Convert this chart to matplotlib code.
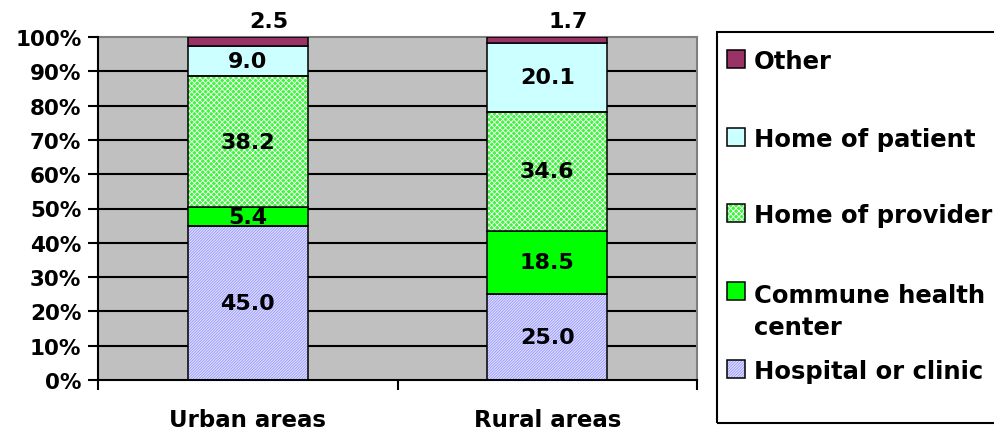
import matplotlib
matplotlib.use("Agg")
import matplotlib.pyplot as plt
from matplotlib.patches import Rectangle
import numpy as np

categories = ['Urban areas', 'Rural areas']
series_names = ['Hospital or clinic', 'Commune health\ncenter', 'Home of provider',
                'Home of patient', 'Other']
hospital = [45.0, 25.0]
commune = [5.4, 18.5]
provider = [38.2, 34.6]
patient = [9.0, 20.1]
other = [2.5, 1.7]
yticks = [0, 10, 20, 30, 40, 50, 60, 70, 80, 90, 100]
ytick_labels = ['0%', '10%', '20%', '30%', '40%', '50%', '60%', '70%', '80%', '90%', '100%']

series = [hospital, commune, provider, patient, other]
styles = [
    dict(face='#E2E2FF', hatch='/' * 12, hcolor='#9494FF'),
    dict(face='#00FF00', hatch=None, hcolor=None),
    dict(face='#40F440', hatch='x' * 6, hcolor='#FFFFFF'),
    dict(face='#CCFFFF', hatch=None, hcolor=None),
    dict(face='#993366', hatch=None, hcolor=None),
]

plt.rcParams['hatch.linewidth'] = 0.6
W, H = 995, 435
fig = plt.figure(figsize=(W / 100, H / 100), dpi=100)
ax = fig.add_axes([98 / W, 1 - 381 / H, 599 / W, 343 / H])
ax.set_facecolor('#C0C0C0')

x = np.arange(len(categories))
vals = np.array(series, dtype=float)
totals = vals.sum(axis=0)
heights = vals / totals * 100
bottoms = np.vstack([np.zeros(len(categories)), np.cumsum(heights, axis=0)[:-1]])
bw = 0.40

for i, st in enumerate(styles):
    if st['hatch']:
        ax.bar(x, heights[i], bw, bottom=bottoms[i], color=st['face'],
               edgecolor=st['hcolor'], hatch=st['hatch'], linewidth=0, zorder=3)
        ax.bar(x, heights[i], bw, bottom=bottoms[i], fill=False,
               edgecolor='black', linewidth=1.1, zorder=4)
    else:
        ax.bar(x, heights[i], bw, bottom=bottoms[i], color=st['face'],
               edgecolor='black', linewidth=1.1, zorder=3)

# value labels
for i in range(len(series)):
    for j in range(len(categories)):
        txt = f"{vals[i][j]:.1f}"
        if i == len(series) - 1:
            ax.text(x[j] + 0.07, 104.6, txt, ha='center', va='center',
                    fontsize=16, fontweight='bold', clip_on=False, zorder=6)
        else:
            ax.text(x[j], bottoms[i][j] + heights[i][j] / 2, txt, ha='center',
                    va='center', fontsize=16, fontweight='bold', zorder=6)

ax.set_xlim(-0.5, 1.5)
ax.set_ylim(0, 100)
ax.set_yticks(yticks)
ax.set_yticklabels(ytick_labels, fontsize=15.5, fontweight='bold')
ax.set_xticks(x)
ax.set_xticklabels(categories, fontsize=16.5, fontweight='bold')
ax.set_xticks([-0.5, 0.5, 1.5], minor=True)
ax.tick_params(axis='x', which='major', length=0, pad=20)
ax.tick_params(axis='x', which='minor', length=7, width=1.5, direction='out')
ax.tick_params(axis='y', length=7, width=1.5, direction='out', pad=5)

for yv in yticks[1:-1]:
    ax.axhline(yv, color='black', linewidth=1.5, zorder=1)

for s in ['left', 'bottom']:
    ax.spines[s].set_color('black')
    ax.spines[s].set_linewidth(1.5)
for s in ['top', 'right']:
    ax.spines[s].set_color('#808080')
    ax.spines[s].set_linewidth(1.5)
ax.spines['left'].set_zorder(5)
ax.spines['bottom'].set_zorder(5)

# legend (manual)
fig.add_artist(Rectangle((717 / W, 1 - 424 / H), (1005 - 717) / W, (424 - 33) / H,
                         transform=fig.transFigure, fill=False, edgecolor='black',
                         linewidth=1.5, clip_on=False))
legend_order = [4, 3, 2, 1, 0]
square_bottoms = [69, 147, 223, 301, 379]
text_baselines = [69, 147, 223, 335, 379]
for k, idx in enumerate(legend_order):
    st = styles[idx]
    b = square_bottoms[k]
    rect_kw = dict(transform=fig.transFigure)
    if st['hatch']:
        fig.add_artist(Rectangle((727 / W, 1 - b / H), 18 / W, 18 / H,
                                 facecolor=st['face'], edgecolor=st['hcolor'],
                                 hatch=st['hatch'], linewidth=0, **rect_kw))
        fig.add_artist(Rectangle((727 / W, 1 - b / H), 18 / W, 18 / H,
                                 fill=False, edgecolor='black', linewidth=1.1, **rect_kw))
    else:
        fig.add_artist(Rectangle((727 / W, 1 - b / H), 18 / W, 18 / H,
                                 facecolor=st['face'], edgecolor='black',
                                 linewidth=1.1, **rect_kw))
    fig.text(754 / W, 1 - text_baselines[k] / H, series_names[idx], ha='left',
             va='baseline', fontsize=17.5, fontweight='bold', linespacing=1.4)

fig.savefig('out.png', dpi=100)
